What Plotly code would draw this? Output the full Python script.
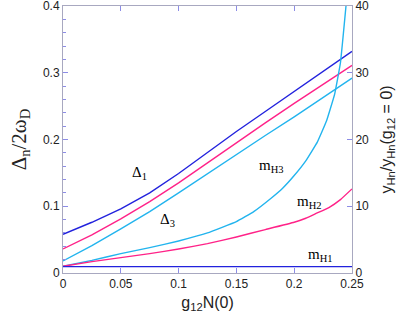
import plotly.graph_objects as go

g = [0, 0.025, 0.05, 0.075, 0.1, 0.125, 0.15, 0.175, 0.2, 0.225, 0.25]
delta1 = [0.058, 0.076, 0.096, 0.120, 0.149, 0.181, 0.212, 0.242, 0.272, 0.302, 0.332]
delta2 = [0.036, 0.057, 0.081, 0.107, 0.135, 0.165, 0.196, 0.225, 0.254, 0.282, 0.311]
delta3 = [0.018, 0.041, 0.066, 0.092, 0.120, 0.149, 0.177, 0.206, 0.234, 0.263, 0.292]

g_h3 = [0, 0.025, 0.05, 0.075, 0.1, 0.125, 0.15, 0.165, 0.18, 0.19, 0.2, 0.21, 0.22, 0.228, 0.235, 0.24, 0.2448]
m_h3 = [1.0, 1.9, 2.9, 3.8, 4.8, 6.0, 7.7, 9.2, 11.2, 12.7, 14.6, 16.8, 19.6, 22.8, 26.8, 31.5, 40.0]
g_h2 = [0, 0.025, 0.05, 0.075, 0.1, 0.125, 0.15, 0.175, 0.2, 0.21, 0.22, 0.23, 0.24, 0.25]
m_h2 = [1.0, 1.7, 2.3, 2.9, 3.6, 4.4, 5.4, 6.5, 7.6, 8.2, 9.0, 9.8, 11.0, 12.6]
g_h1 = [0, 0.25]
m_h1 = [0.95, 0.95]

x_ticks = [0, 0.05, 0.1, 0.15, 0.2, 0.25]
x_labels = ["0", "0.05", "0.1", "0.15", "0.2", "0.25"]
y_ticks = [0, 0.1, 0.2, 0.3, 0.4]
y_labels = ["0", "0.1", "0.2", "0.3", "0.4"]
y2_ticks = [0, 10, 20, 30, 40]
y2_labels = ["0", "10", "20", "30", "40"]

BLUE = "#2222dd"
PINK = "#ff2288"
CYAN = "#22b4ee"
FRAME = "#a8a8c0"
TICK = "#8c8ce6"

fig = go.Figure()
lw = 1.4
fig.add_trace(go.Scatter(x=g, y=delta1, mode="lines", line=dict(color=BLUE, width=lw)))
fig.add_trace(go.Scatter(x=g, y=delta2, mode="lines", line=dict(color=PINK, width=lw)))
fig.add_trace(go.Scatter(x=g, y=delta3, mode="lines", line=dict(color=CYAN, width=lw)))
fig.add_trace(go.Scatter(x=g_h3, y=m_h3, mode="lines", line=dict(color=CYAN, width=lw, shape="spline", smoothing=0.3), yaxis="y2"))
fig.add_trace(go.Scatter(x=g_h2, y=m_h2, mode="lines", line=dict(color=PINK, width=lw, shape="spline", smoothing=0.3), yaxis="y2"))
fig.add_trace(go.Scatter(x=g_h1, y=m_h1, mode="lines", line=dict(color=BLUE, width=lw), yaxis="y2"))

serif = "Liberation Serif"
ann_font = dict(family=serif, size=15, color="black")
labels = [
    (0.066, 0.150, "Δ<sub>1</sub>"),
    (0.0908, 0.079, "Δ<sub>3</sub>"),
    (0.18, 0.161, "m<sub>H3</sub>"),
    (0.2133, 0.106, "m<sub>H2</sub>"),
    (0.2225, 0.0265, "m<sub>H1</sub>"),
]
for x, y, t in labels:
    fig.add_annotation(x=x, y=y, text=t, showarrow=False, font=ann_font, xref="x", yref="y")

fig.update_layout(
    width=409, height=319,
    margin=dict(l=63, r=57, t=6, b=46),
    paper_bgcolor="white", plot_bgcolor="white",
    showlegend=False,
    font=dict(family="Liberation Sans", size=12, color="#222"),
    xaxis=dict(
        range=[0, 0.25], tickvals=x_ticks, ticktext=x_labels,
        ticks="inside", ticklen=5, tickcolor=TICK, tickwidth=1,
        showline=True, linecolor=FRAME, linewidth=1, mirror="ticks",
        showgrid=False, zeroline=False, automargin=False,
        title=dict(text="g<sub>12</sub>N(0)", font=dict(size=16, color="#222"), standoff=6),
    ),
    yaxis=dict(
        range=[0, 0.4], tickvals=y_ticks, ticktext=y_labels,
        ticks="inside", ticklen=5, tickcolor=TICK, tickwidth=1,
        minor=dict(ticks="inside", ticklen=3, tickcolor=TICK, dtick=0.02, showgrid=False),
        showline=True, linecolor=FRAME, linewidth=1,
        showgrid=False, zeroline=False, automargin=False, ticklabeloverflow="allow",
        title=dict(text="Δ<sub>n</sub>/2ω<sub>D</sub>", font=dict(family=serif, size=21, color="#222"), standoff=10),
    ),
    yaxis2=dict(
        range=[0, 40], tickvals=y2_ticks, ticktext=y2_labels,
        overlaying="y", side="right",
        ticks="inside", ticklen=5, tickcolor=TICK, tickwidth=1,
        showline=True, linecolor=FRAME, linewidth=1,
        showgrid=False, zeroline=False, automargin=False, ticklabeloverflow="allow",
        title=dict(text="y<sub>Hn</sub>/y<sub>Hn</sub>(g<sub>12</sub> = 0)", font=dict(size=16, color="#222"), standoff=12),
    ),
)

fig.write_html("out.html", config={"displayModeBar": False},
               post_script="document.body.style.margin='0';")
